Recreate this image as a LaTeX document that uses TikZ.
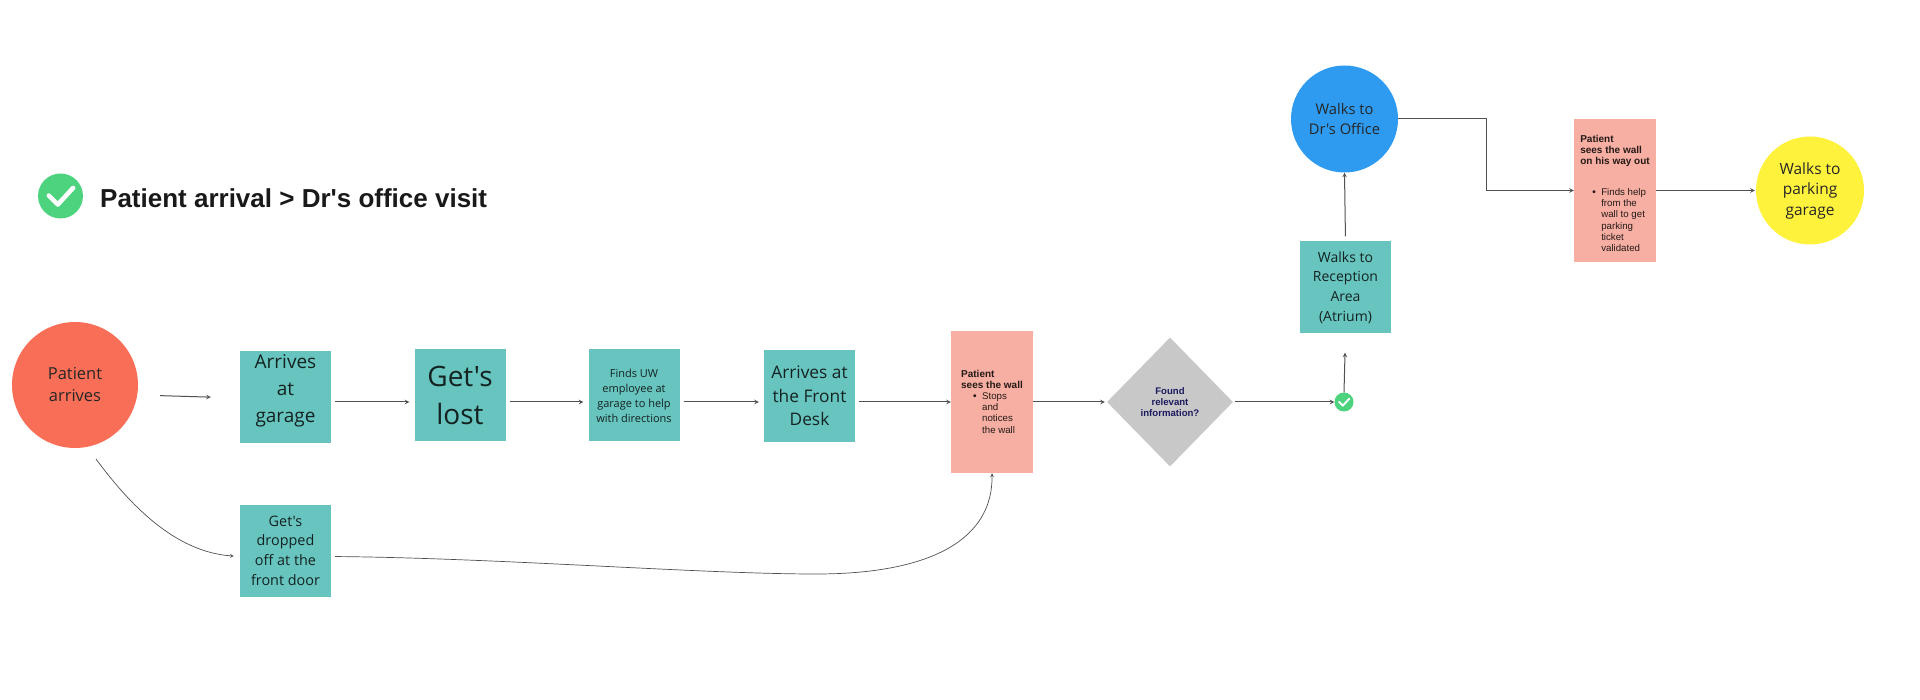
\documentclass[tikz,border=0pt]{standalone}
\usepackage{fontspec}
\setmainfont{Liberation Sans}
\newfontfamily\boxfont{Open Sans}
\usetikzlibrary{shapes.geometric}
\definecolor{stepteal}{HTML}{68C4BE}
\definecolor{startred}{HTML}{F96E56}
\definecolor{wallpink}{HTML}{F6AFA2}
\definecolor{askgrey}{HTML}{C8C8C8}
\definecolor{officeblue}{HTML}{2E9BF0}
\definecolor{endyellow}{HTML}{FFF23D}
\definecolor{okgreen}{HTML}{4DD37E}
\definecolor{askink}{HTML}{1C1A5E}
\definecolor{flowgrey}{HTML}{505050}
\newcommand{\boxsize}[2]{\boxfont\fontsize{#1}{#2}\selectfont}
\newcommand{\wallitem}[1]{\hspace*{12pt}\makebox[9pt][l]{\textbullet}{\normalfont\fontsize{9.7}{11.2}\selectfont #1}}
\newcommand{\wallmore}[1]{\hspace*{21pt}{\normalfont\fontsize{9.7}{11.2}\selectfont #1}}
% white tick on a green disc
\newcommand{\oktick}[2]{\draw[white, line width=#2*0.1pt, line cap=round, line join=round]
	([shift={(-#2*0.26pt,#2*0.01pt)}]#1.center)--([shift={(-#2*0.06pt,-#2*0.19pt)}]#1.center)--([shift={(#2*0.28pt,#2*0.18pt)}]#1.center);}
\tikzset{
	stepbox/.style={fill=stepteal, inner sep=0pt, minimum width=91pt, minimum height=92pt, align=center, text=black!82!stepteal},
	roundbox/.style={circle, inner sep=0pt, align=center, text=black!85},
	wallbox/.style={fill=wallpink, inner sep=0pt, minimum width=82pt, align=left, font=\fontsize{10}{11.2}\selectfont\bfseries, text=black!85!wallpink},
	flow/.style={draw=flowgrey, line width=1pt, ->},
	okdisc/.style={circle, fill=okgreen, inner sep=0pt}
}
\begin{document}
\begin{tikzpicture}[x=1pt, y=-1pt, line join=round, >=stealth]
	\useasboundingbox (0,0) rectangle (1920,700);
	% heading
	\node[okdisc, minimum size=45pt] (headtick) at (60.5,196) {};
	\oktick{headtick}{45}
	\node[anchor=west, inner sep=0pt, font=\fontsize{26}{29}\selectfont\bfseries, text=black!90] (title) at (100,198) {Patient arrival > Dr\textquotesingle s office visit};
	% first row
	\node[roundbox, fill=startred, minimum size=126pt, font=\boxsize{16.5}{22}] (patient) at (75,385) {Patient\\arrives};
	\node[stepbox, font=\boxsize{19}{27}] (garage) at (285.5,397) {\mbox{}\\[-25pt]Arrives\\at\\garage};
	\node[stepbox, font=\boxsize{28}{38}] (lost) at (460,395.5) {Get's\\lost};
	\node[stepbox, font=\boxsize{11}{15}] (finds) at (634,395.5) {Finds UW\\employee at\\garage to help\\with directions};
	\node[stepbox, font=\boxsize{17.3}{23.5}] (desk) at (809.5,396) {Arrives at\\the Front\\Desk};
	\node[stepbox, font=\boxsize{14.4}{19.7}] (dropoff) at (285.5,550.5) {Get's\\dropped\\off at the\\front door};
	\node[wallbox, minimum height=142pt] (wall) at (992,402) {\mbox{}\\[-5pt]Patient\\sees the wall\\\wallitem{Stops}\\\wallmore{and}\\\wallmore{notices}\\\wallmore{the wall}};
	\node[diamond, aspect=1, fill=askgrey, inner sep=0pt, minimum width=126pt, minimum height=129pt, align=center, text=askink, font=\fontsize{9.6}{11}\selectfont\bfseries] (ask) at (1170,402) {Found\\relevant\\information?};
	\node[okdisc, minimum size=19pt] (okflag) at (1344,402) {};
	\oktick{okflag}{19}
	% way to the office and out
	\node[stepbox, font=\boxsize{14}{19.7}] (reception) at (1345.5,287.5) {Walks to\\Reception\\Area\\(Atrium)};
	\node[roundbox, fill=officeblue, minimum size=107pt, font=\boxsize{14.7}{19.5}] (office) at (1344.5,119) {Walks to\\Dr's Office};
	\node[wallbox, minimum height=143pt] (exitwall) at (1615,190.5) {\mbox{}\\[2pt]Patient\\sees the wall\\on his way out\\[19.4pt]\wallitem{Finds help}\\\wallmore{from the}\\\wallmore{wall to get}\\\wallmore{parking}\\\wallmore{ticket}\\\wallmore{validated}};
	\node[roundbox, fill=endyellow, minimum size=108pt, font=\boxsize{15.5}{20.5}] (parking) at (1810,190.5) {Walks to\\parking\\garage};
	% connectors
	\coordinate (dropstart) at (96,459);
	\coordinate (curvemid) at (816,574);
	\coordinate (bend) at (1486,190.5);
	\draw[flow, shorten <=22pt, shorten >=29pt] ([yshift=-10pt]patient.east)--([yshift=-1pt]garage.west);
	\draw[flow, shorten <=4pt, shorten >=5pt] ([yshift=-5pt]garage.east)--([yshift=-6.5pt]lost.west);
	\draw[flow, shorten <=4pt, shorten >=5pt] ([yshift=-6.5pt]lost.east)--([yshift=-6.5pt]finds.west);
	\draw[flow, shorten <=4pt, shorten >=5pt] ([yshift=-6.5pt]finds.east)--([yshift=-6pt]desk.west);
	\draw[flow, shorten <=4pt] ([yshift=-6pt]desk.east)--(wall.west);
	\draw[flow, shorten >=2pt] (wall.east)--(ask.west);
	\draw[flow, shorten <=2pt] (ask.east)--(okflag.west);
	\draw[flow, shorten >=19pt] (okflag.north)--(reception.south);
	\draw[flow, shorten <=5pt] (reception.north)--(office.south);
	\draw[flow] (office.east)-|(bend)--(exitwall.west);
	\draw[flow, shorten >=1pt] (exitwall.east)--(parking.west);
	\draw[flow, line width=0.7pt, shorten >=6pt] (dropstart) .. controls (130,505) and (175,552) .. ([yshift=-6pt]dropoff.west);
	\draw[flow, line width=0.7pt, shorten <=4pt] ([yshift=-6pt]dropoff.east) .. controls (500,558) and (700,574) .. (curvemid) .. controls (930,574) and (993,540) .. (wall.south);
\end{tikzpicture}
\end{document}
